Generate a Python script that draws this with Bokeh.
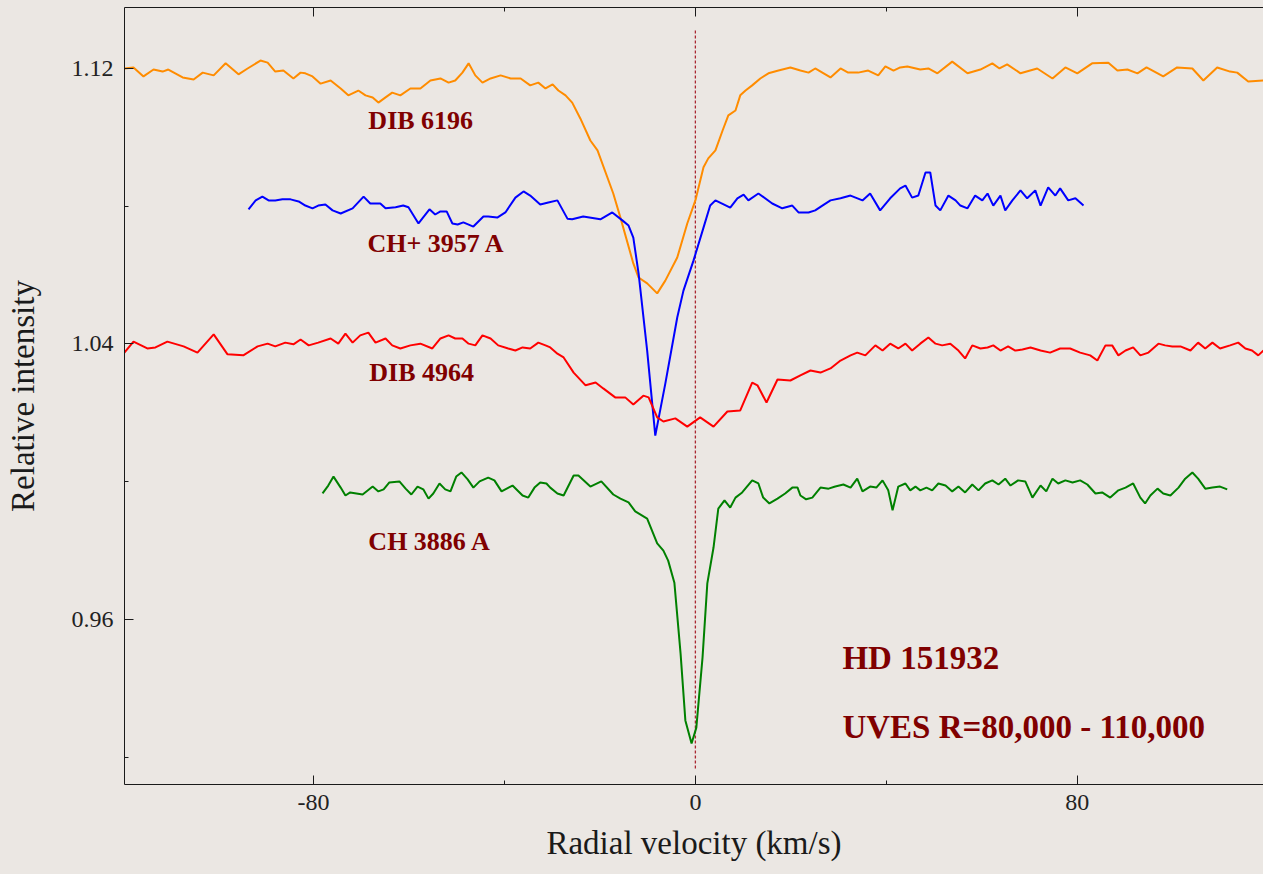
from bokeh.plotting import figure
from bokeh.models import Range1d, FixedTicker, LinearAxis, ColumnDataSource, CustomLabelingPolicy
from bokeh.core.properties import value
from bokeh.embed import file_html
from bokeh.resources import INLINE

# ---------------- data (radial velocity km/s, relative intensity) ----------------
dib6196_v = [-119.6, -117.7, -115.6, -113.5, -111.6, -110.4, -107.4, -105.1, -103.2, -100.9,
             -98.4, -95.7, -93.8, -91.1, -89.6, -88.0, -86.3, -84.2, -82.7, -81.7,
             -80.2, -78.5, -76.4, -74.3, -72.7, -70.6, -69.1, -67.6, -66.4, -64.9,
             -63.5, -61.8, -59.7, -57.6, -55.5, -53.4, -51.7, -50.3, -48.8, -47.5,
             -46.1, -44.6, -42.9, -40.8, -38.7, -36.6, -34.6, -32.9, -31.4, -29.9,
             -28.7, -27.2, -25.8, -24.1, -22.0, -20.5, -17.2, -15.7, -13.0, -11.9,
             -10.1, -8.0, -6.3, -3.8, -1.7, 0.0, 1.7, 2.7, 4.2, 5.7,
             6.9, 8.4, 9.4, 10.5, 11.9, 13.6, 15.3, 17.4, 19.9, 22.0,
             23.7, 25.1, 26.6, 28.3, 30.4, 32.0, 34.1, 36.2, 38.3, 39.8,
             41.5, 42.9, 44.4, 47.1, 48.8, 50.7, 53.8, 57.0, 59.7, 62.2,
             63.7, 65.3, 68.1, 71.6, 74.8, 77.5, 80.0, 83.1, 86.5, 88.4,
             90.5, 92.6, 94.5, 98.0, 100.9, 104.1, 106.4, 109.3, 112.0, 113.5,
             115.8, 119.0]
dib6196_i = [1.1200, 1.1203, 1.1177, 1.1197, 1.1191, 1.1197, 1.1174, 1.1168, 1.1188, 1.1180,
             1.1215, 1.1183, 1.1200, 1.1223, 1.1217, 1.1191, 1.1194, 1.1171, 1.1188, 1.1186,
             1.1177, 1.1156, 1.1165, 1.1142, 1.1122, 1.1136, 1.1122, 1.1116, 1.1101, 1.1116,
             1.1130, 1.1122, 1.1142, 1.1142, 1.1165, 1.1171, 1.1159, 1.1165, 1.1188, 1.1215,
             1.1180, 1.1159, 1.1171, 1.1180, 1.1171, 1.1171, 1.1151, 1.1159, 1.1142, 1.1154,
             1.1136, 1.1122, 1.1101, 1.1055, 1.0991, 1.0962, 1.0837, 1.0767, 1.0634, 1.0593,
             1.0576, 1.0547, 1.0584, 1.0651, 1.0750, 1.0817, 1.0913, 1.0939, 1.0962, 1.1020,
             1.1064, 1.1078, 1.1122, 1.1136, 1.1151, 1.1171, 1.1186, 1.1194, 1.1203, 1.1194,
             1.1188, 1.1200, 1.1188, 1.1174, 1.1200, 1.1188, 1.1188, 1.1194, 1.1180, 1.1206,
             1.1194, 1.1203, 1.1206, 1.1197, 1.1200, 1.1186, 1.1220, 1.1186, 1.1197, 1.1215,
             1.1200, 1.1212, 1.1186, 1.1200, 1.1171, 1.1203, 1.1186, 1.1215, 1.1217, 1.1194,
             1.1197, 1.1186, 1.1203, 1.1177, 1.1203, 1.1200, 1.1165, 1.1203, 1.1191, 1.1188,
             1.1162, 1.1165]

chp3957_v = [-93.6, -92.1, -90.7, -89.4, -88.0, -86.5, -84.8, -83.1, -81.7, -80.2,
             -79.0, -77.5, -76.0, -74.3, -71.8, -69.5, -68.1, -66.0, -64.9, -62.8,
             -61.2, -60.1, -58.0, -55.7, -54.5, -53.4, -52.1, -50.9, -49.8, -48.6,
             -46.5, -44.4, -43.4, -41.5, -39.8, -37.7, -36.0, -34.6, -32.5, -30.8,
             -28.9, -26.8, -25.8, -23.5, -19.9, -17.4, -15.3, -14.0, -13.0, -11.9,
             -10.1, -8.4, -6.3, -3.8, -2.5, -0.4, 1.7, 3.1, 4.2, 7.3,
             8.8, 10.1, 11.1, 13.2, 16.1, 18.2, 20.3, 21.6, 23.7, 25.1,
             26.6, 28.3, 30.4, 32.5, 35.0, 36.6, 38.7, 40.8, 42.9, 44.0,
             45.4, 46.7, 48.2, 49.2, 50.3, 51.3, 53.0, 54.5, 55.5, 57.0,
             58.6, 60.1, 61.2, 62.4, 63.9, 64.9, 66.4, 68.1, 69.5, 71.2,
             72.3, 73.9, 75.4, 76.4, 78.1, 79.6, 81.3]
chp3957_i = [1.0791, 1.0817, 1.0828, 1.0817, 1.0817, 1.0820, 1.0820, 1.0814, 1.0802, 1.0794,
             1.0802, 1.0805, 1.0788, 1.0779, 1.0794, 1.0828, 1.0808, 1.0808, 1.0794, 1.0797,
             1.0802, 1.0797, 1.0750, 1.0791, 1.0776, 1.0785, 1.0785, 1.0750, 1.0747, 1.0753,
             1.0741, 1.0770, 1.0770, 1.0767, 1.0782, 1.0825, 1.0843, 1.0831, 1.0805, 1.0811,
             1.0817, 1.0764, 1.0762, 1.0770, 1.0762, 1.0782, 1.0759, 1.0744, 1.0709, 1.0605,
             1.0381, 1.0134, 1.0285, 1.0477, 1.0555, 1.0642, 1.0738, 1.0802, 1.0817, 1.0796,
             1.0823, 1.0834, 1.0817, 1.0837, 1.0808, 1.0794, 1.0802, 1.0782, 1.0782, 1.0788,
             1.0802, 1.0817, 1.0823, 1.0831, 1.0817, 1.0837, 1.0788, 1.0823, 1.0852, 1.0860,
             1.0825, 1.0831, 1.0898, 1.0898, 1.0802, 1.0788, 1.0831, 1.0817, 1.0802, 1.0794,
             1.0831, 1.0817, 1.0837, 1.0802, 1.0831, 1.0788, 1.0817, 1.0846, 1.0823, 1.0846,
             1.0802, 1.0855, 1.0831, 1.0852, 1.0817, 1.0823, 1.0802]

dib4964_v = [-119.6, -117.7, -114.8, -113.1, -110.6, -107.2, -104.3, -100.9, -98.0, -94.7,
             -91.7, -89.6, -88.0, -85.9, -84.2, -82.7, -81.0, -79.0, -76.4, -74.8,
             -73.3, -71.8, -70.2, -68.5, -67.0, -64.9, -63.5, -61.8, -59.7, -57.6,
             -55.1, -53.4, -51.7, -50.3, -48.8, -47.5, -46.1, -44.6, -42.9, -41.3,
             -39.2, -37.7, -36.2, -34.6, -32.9, -31.4, -30.4, -28.9, -27.6, -25.5,
             -23.0, -20.9, -19.3, -16.8, -14.7, -13.0, -10.9, -9.8, -8.0, -6.7,
             -4.2, -1.7, 1.0, 3.8, 6.7, 9.4, 11.9, 13.0, 14.9, 17.2,
             19.9, 22.0, 24.1, 26.2, 28.3, 30.4, 32.5, 33.9, 35.6, 37.7,
             39.2, 40.8, 42.5, 44.0, 45.4, 47.1, 48.8, 50.3, 51.7, 53.4,
             55.1, 56.5, 58.0, 59.7, 61.2, 62.4, 63.9, 65.5, 67.0, 68.5,
             70.2, 72.3, 74.3, 76.4, 78.5, 80.6, 82.7, 84.2, 85.9, 87.3,
             88.6, 90.1, 91.7, 93.2, 94.9, 97.0, 98.4, 99.9, 101.6, 103.7,
             105.3, 106.8, 108.3, 109.9, 112.0, 113.7, 115.2, 116.6, 117.9, 119.0]
dib4964_i = [1.0375, 1.0407, 1.0387, 1.0390, 1.0407, 1.0393, 1.0375, 1.0428, 1.0370, 1.0367,
             1.0393, 1.0401, 1.0393, 1.0404, 1.0399, 1.0413, 1.0396, 1.0404, 1.0416, 1.0401,
             1.0430, 1.0404, 1.0425, 1.0433, 1.0404, 1.0416, 1.0396, 1.0387, 1.0396, 1.0401,
             1.0387, 1.0416, 1.0425, 1.0416, 1.0416, 1.0401, 1.0396, 1.0425, 1.0416, 1.0396,
             1.0387, 1.0381, 1.0390, 1.0387, 1.0404, 1.0396, 1.0390, 1.0372, 1.0361, 1.0317,
             1.0280, 1.0288, 1.0271, 1.0245, 1.0245, 1.0224, 1.0250, 1.0245, 1.0187, 1.0175,
             1.0184, 1.0160, 1.0187, 1.0160, 1.0204, 1.0207, 1.0288, 1.0280, 1.0230, 1.0297,
             1.0294, 1.0309, 1.0323, 1.0317, 1.0329, 1.0352, 1.0367, 1.0375, 1.0367, 1.0396,
             1.0381, 1.0401, 1.0387, 1.0401, 1.0381, 1.0401, 1.0419, 1.0401, 1.0396, 1.0401,
             1.0381, 1.0358, 1.0396, 1.0387, 1.0390, 1.0396, 1.0381, 1.0393, 1.0381, 1.0384,
             1.0390, 1.0381, 1.0375, 1.0387, 1.0387, 1.0375, 1.0367, 1.0352, 1.0396, 1.0396,
             1.0367, 1.0381, 1.0390, 1.0367, 1.0375, 1.0401, 1.0396, 1.0393, 1.0393, 1.0381,
             1.0404, 1.0387, 1.0404, 1.0387, 1.0396, 1.0404, 1.0387, 1.0381, 1.0367, 1.0381]

ch3886_v = [-78.1, -76.9, -75.8, -74.3, -73.3, -72.3, -69.7, -67.6, -66.4, -65.3,
            -64.1, -62.0, -60.7, -59.5, -58.2, -57.0, -55.9, -54.9, -53.6, -52.4,
            -51.3, -50.1, -49.0, -47.7, -46.5, -45.2, -43.4, -42.1, -40.6, -38.3,
            -36.2, -35.0, -33.7, -32.5, -31.2, -30.4, -28.9, -27.6, -25.5, -24.5,
            -22.0, -19.7, -17.2, -15.7, -14.0, -12.6, -10.1, -8.0, -6.7, -5.7,
            -4.4, -3.1, -2.1, -0.8, 0.2, 1.5, 2.5, 3.8, 4.8, 6.1,
            7.3, 8.4, 9.8, 11.9, 13.2, 14.2, 15.5, 17.2, 18.8, 20.3,
            21.4, 22.0, 23.2, 24.5, 26.2, 27.9, 29.3, 31.0, 32.5, 33.9,
            35.0, 36.6, 37.9, 39.2, 40.4, 41.3, 42.5, 44.0, 45.0, 46.1,
            47.1, 48.4, 49.6, 50.9, 52.4, 53.8, 55.1, 56.5, 58.0, 59.3,
            60.7, 62.2, 63.5, 64.9, 66.0, 67.6, 69.1, 70.6, 72.3, 73.5,
            74.8, 76.0, 77.5, 79.0, 80.6, 82.1, 83.8, 85.2, 86.9, 88.6,
            90.1, 91.7, 93.2, 94.2, 95.3, 96.8, 98.0, 99.5, 101.2, 102.6,
            104.1, 105.3, 106.8, 108.3, 109.9, 111.4]
ch3886_i = [0.9966, 0.9989, 1.0015, 0.9983, 0.9960, 0.9969, 0.9963, 0.9986, 0.9972, 0.9978,
            0.9998, 1.0001, 0.9980, 0.9963, 0.9986, 0.9978, 0.9951, 0.9966, 0.9995, 0.9978,
            0.9972, 1.0015, 1.0027, 1.0007, 0.9983, 1.0001, 1.0012, 1.0004, 0.9972, 0.9989,
            0.9960, 0.9954, 0.9983, 0.9998, 0.9995, 0.9983, 0.9966, 0.9960, 1.0018, 1.0018,
            0.9986, 1.0001, 0.9963, 0.9951, 0.9940, 0.9914, 0.9893, 0.9821, 0.9800, 0.9771,
            0.9707, 0.9501, 0.9307, 0.9240, 0.9286, 0.9490, 0.9705, 0.9809, 0.9922, 0.9946,
            0.9925, 0.9954, 0.9969, 1.0004, 0.9995, 0.9954, 0.9937, 0.9951, 0.9966, 0.9983,
            0.9983, 0.9960, 0.9949, 0.9954, 0.9983, 0.9980, 0.9986, 0.9992, 0.9983, 1.0009,
            0.9972, 0.9986, 0.9983, 1.0004, 0.9975, 0.9917, 0.9986, 0.9995, 0.9975, 0.9986,
            0.9975, 0.9983, 0.9975, 0.9995, 0.9989, 0.9972, 0.9986, 0.9969, 0.9992, 0.9975,
            0.9995, 1.0004, 0.9992, 1.0009, 0.9989, 1.0004, 1.0001, 0.9954, 0.9989, 0.9972,
            1.0009, 0.9995, 1.0004, 0.9998, 1.0004, 0.9992, 0.9966, 0.9969, 0.9954, 0.9975,
            0.9983, 0.9995, 0.9954, 0.9937, 0.9960, 0.9980, 0.9966, 0.9960, 0.9983, 1.0009,
            1.0027, 1.0009, 0.9980, 0.9983, 0.9986, 0.9978]

series_labels = ["DIB 6196", "CH+ 3957 A", "DIB 4964", "CH 3886 A"]
info_labels = ["HD 151932", "UVES R=80,000 - 110,000"]
x_title = "Radial velocity (km/s)"
y_title = "Relative intensity"
x_major = [-80, 0, 80]
x_minor = [-40, 40]
x_tick_text = {-80: "-80", 0: "0", 80: "80"}
y_major = [0.96, 1.04, 1.12]
y_minor = [0.92, 1.00, 1.08]
rest_velocity = [0.0]

# ---------------- layout / style ----------------
BG = "#ebe7e3"
FONT = "Liberation Serif"
LABEL_RED = "#800000"

label_pos_v = [-68.5, -68.7, -68.3, -68.5]
label_pos_i = [1.1048, 1.0693, 1.0317, 0.9827]
info_pos_v = [30.8, 30.8]
info_pos_i = [0.9487, 0.9288]
marker_lo, marker_hi = 0.9167, 1.1313

p = figure(width=1263, height=874, output_backend="svg", toolbar_location=None,
           x_range=Range1d(-119.58, 119.0), y_range=Range1d(0.91209, 1.13771),
           x_axis_label=x_title, y_axis_label=y_title,
           min_border_left=124, min_border_right=0, min_border_top=7, min_border_bottom=90)
p.background_fill_color = BG
p.border_fill_color = BG
p.outline_line_color = None
p.grid.visible = False

xt = FixedTicker(ticks=x_major, minor_ticks=x_minor)
yt = FixedTicker(ticks=y_major, minor_ticks=y_minor)


def style_axis(ax):
    ax.axis_line_color = "#1a1a1a"
    ax.axis_line_width = 1
    ax.major_tick_line_color = "#1a1a1a"
    ax.minor_tick_line_color = "#1a1a1a"
    ax.major_tick_in = 9
    ax.major_tick_out = 0
    ax.minor_tick_in = 4
    ax.minor_tick_out = 0
    ax.major_label_text_font = FONT
    ax.major_label_text_font_size = "24px"
    ax.major_label_text_color = "#222222"
    ax.axis_label_text_font = FONT
    ax.axis_label_text_font_size = "33px"
    ax.axis_label_text_font_style = "normal"
    ax.axis_label_text_color = "#1a1a1a"


p.xaxis.ticker = xt
p.yaxis.ticker = yt
for ax in p.xaxis:
    style_axis(ax)
    ax.major_label_standoff = 10
    ax.major_label_overrides = x_tick_text
    ax.axis_label_standoff = 12
for ax in p.yaxis:
    style_axis(ax)
    ax.major_label_standoff = 11
    ax.axis_label_standoff = 28

top = LinearAxis(ticker=xt)
style_axis(top)
top.major_label_text_font_size = "2px"
top.major_label_standoff = 0
top.major_label_policy = CustomLabelingPolicy(code="return new Set()")
p.add_layout(top, "above")

# dashed rest-velocity marker
p.segment(x0=rest_velocity, y0=[marker_lo], x1=rest_velocity, y1=[marker_hi],
          line_color="#aa2832", line_width=1.3, line_dash="3 2")

p.line(dib6196_v, dib6196_i, line_color="#ff8c00", line_width=2)
p.line(chp3957_v, chp3957_i, line_color="#0000ff", line_width=2)
p.line(dib4964_v, dib4964_i, line_color="#ff0000", line_width=2)
p.line(ch3886_v, ch3886_i, line_color="#008000", line_width=2)

lab_src = ColumnDataSource(dict(x=label_pos_v, y=label_pos_i, t=series_labels))
p.text(x="x", y="y", text="t", source=lab_src, text_font=value(FONT), text_font_size="26px",
       text_font_style="bold", text_color=LABEL_RED, text_baseline="middle", text_align="left")

info_src = ColumnDataSource(dict(x=info_pos_v, y=info_pos_i, t=info_labels))
p.text(x="x", y="y", text="t", source=info_src, text_font=value(FONT), text_font_size="33px",
       text_font_style="bold", text_color=LABEL_RED, text_baseline="middle", text_align="left")

html = file_html(p, INLINE)
html = html.replace("</head>", "<style>html,body{background:%s;}</style></head>" % BG, 1)
open("out.html", "w").write(html)
